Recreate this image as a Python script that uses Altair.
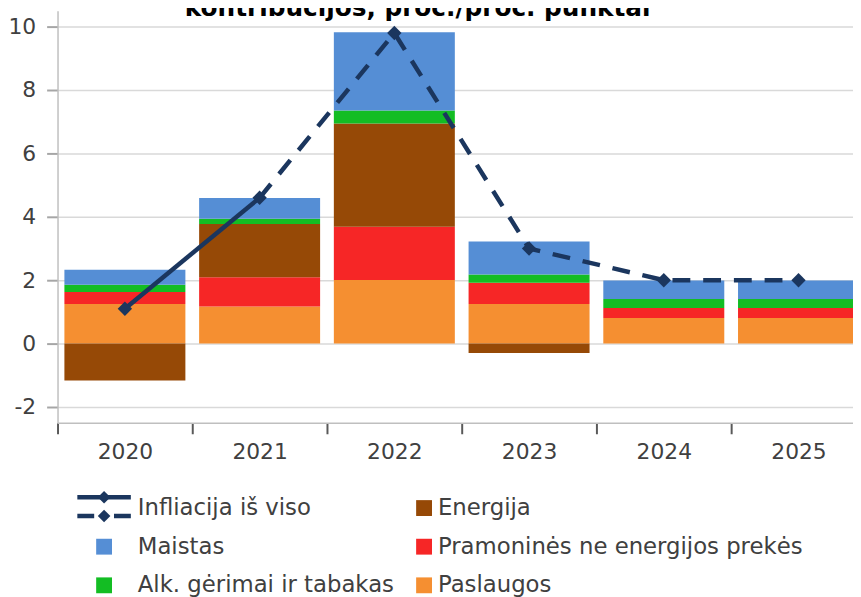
import altair as alt
import pandas as pd

# ---------------- data ----------------
years = [2020, 2021, 2022, 2023, 2024, 2025]
paslaugos = [1.25, 1.17, 2.01, 1.25, 0.81, 0.81]
pramonines = [0.38, 0.92, 1.68, 0.67, 0.31, 0.31]
energija = [-1.16, 1.68, 3.25, -0.30, 0.0, 0.0]
alk_gerimai = [0.23, 0.17, 0.41, 0.26, 0.29, 0.29]
maistas = [0.47, 0.65, 2.47, 1.04, 0.58, 0.58]
infliacija = [1.1, 4.6, 9.8, 3.0, 2.0, 2.0]

line_name = "Infliacija iš viso"
cat_names = ["Paslaugos", "Pramoninės ne energijos prekės", "Energija",
             "Alk. gėrimai ir tabakas", "Maistas"]
cat_series = [paslaugos, pramonines, energija, alk_gerimai, maistas]
legend_order = [line_name, "Maistas", "Alk. gėrimai ir tabakas",
                "Energija", "Pramoninės ne energijos prekės", "Paslaugos"]
title_text = "kontribucijos, proc./proc. punktai"

# ---------------- styles / layout ----------------
cat_colors = ["#F58F31", "#F62626", "#964906", "#13BD23", "#558ED5"]
line_color = "#1B365E"
text_color = "#404040"
FONT = "DejaVu Sans"
W, H = 803, 416
PAD_L, PAD_B = 50, 173
BAND_PX = 136
HALF_BAR = 0.449
x_domain = [2019.5, 2019.5 + W / BAND_PX]
y_domain = [-2.5, 10.5]

# legend placement (pixels relative to plot origin)
ROW0_Y, ROW_STEP = 502, 39
SYM_X = (47, 370)
TXT_X = (81, 384)


def x_dom(p0, p1, length):
    k = p1 - p0
    d0 = -p0 / k
    return [d0, d0 + length / k]


def y_dom(p0, p1, length):
    q0, q1 = length - p0, length - p1
    k = q1 - q0
    d0 = -q0 / k
    return [d0, d0 + length / k]


# ---------------- tables ----------------
rows = []
for ci, (name, series) in enumerate(zip(cat_names, cat_series)):
    for y, v in zip(years, series):
        rows.append({"year": y, "category": name, "value": v, "order": ci})
bars_df = pd.DataFrame(rows)
line_df = pd.DataFrame({"year": years, "infl": infliacija})
leg_df = pd.DataFrame({"label": legend_order,
                       "col": [i // 3 for i in range(len(legend_order))],
                       "row": [i % 3 for i in range(len(legend_order))]})

xs = alt.Scale(domain=x_domain, nice=False, zero=False)
ys = alt.Scale(domain=y_domain, nice=False, zero=False)
color_scale = alt.Scale(domain=cat_names, range=cat_colors)

x_axis = alt.Axis(
    values=[2019.5 + 0.5 * i for i in range(12)],
    labelExpr="datum.value % 1 == 0 ? '' + datum.value : ''",
    tickOpacity={"condition": {"test": "datum.value % 1 != 0", "value": 1}, "value": 0},
    grid=False, domainColor="#bfbfbf", domainWidth=1.5,
    tickColor="#595959", tickWidth=2, tickSize=11,
    labelFont=FONT, labelFontSize=22, labelColor=text_color, labelPadding=8,
    labelOverlap=False, labelFlush=False, title=None)
y_axis = alt.Axis(
    values=list(range(-2, 11)),
    labelExpr="datum.value % 2 == 0 ? '' + datum.value : ''",
    grid=True, gridColor="#d9d9d9", gridWidth=1.5,
    domainColor="#bfbfbf", domainWidth=1.5,
    tickColor="#a6a6a6", tickWidth=2, tickSize=11,
    labelFont=FONT, labelFontSize=22, labelColor=text_color, labelPadding=11,
    labelOverlap=False, title=None)

bars = alt.Chart(bars_df).transform_stack(
    stack="value", groupby=["year"], as_=["y0", "y1"],
    sort=[alt.SortField("order", order="ascending")]
).transform_calculate(
    xa=f"datum.year - {HALF_BAR}", xb=f"datum.year + {HALF_BAR}"
).mark_bar().encode(
    x=alt.X("xa:Q", scale=xs, axis=x_axis),
    x2="xb:Q",
    y=alt.Y("y0:Q", scale=ys, axis=y_axis),
    y2="y1:Q",
    color=alt.Color("category:N", scale=color_scale, legend=None),
)

line_solid = alt.Chart(line_df).transform_filter("datum.year <= 2021").mark_line(
    color=line_color, strokeWidth=4.5).encode(
    x=alt.X("year:Q", scale=xs), y=alt.Y("infl:Q", scale=ys))
line_dash = alt.Chart(line_df).transform_filter("datum.year >= 2021").mark_line(
    color=line_color, strokeWidth=4.5, strokeDash=[18, 13], strokeCap="butt").encode(
    x=alt.X("year:Q", scale=xs), y=alt.Y("infl:Q", scale=ys))
points = alt.Chart(line_df).mark_point(
    shape="diamond", filled=True, size=210, color=line_color, opacity=1).encode(
    x=alt.X("year:Q", scale=xs), y=alt.Y("infl:Q", scale=ys))

main = alt.layer(bars, line_solid, line_dash, points)

# ---------------- legend ----------------
row_scale = alt.Scale(domain=y_dom(ROW0_Y, ROW0_Y + ROW_STEP, H), nice=False, zero=False)
sym_x_scale = alt.Scale(domain=x_dom(SYM_X[0], SYM_X[1], W), nice=False, zero=False)
txt_x_scale = alt.Scale(domain=x_dom(TXT_X[0], TXT_X[1], W), nice=False, zero=False)

leg_text = alt.Chart(leg_df).mark_text(
    align="left", baseline="middle", font=FONT, fontSize=23, color=text_color).encode(
    x=alt.X("col:Q", scale=txt_x_scale, axis=None),
    y=alt.Y("row:Q", scale=row_scale, axis=None),
    text="label:N")

base_leg = alt.Chart(leg_df)
squares = base_leg.transform_filter(f"datum.label != '{line_name}'").mark_square(
    size=256, opacity=1).encode(
    x=alt.X("col:Q", scale=sym_x_scale, axis=None),
    y=alt.Y("row:Q", scale=row_scale, axis=None),
    color=alt.Color("label:N", scale=color_scale, legend=None))
only_line = base_leg.transform_filter(f"datum.label == '{line_name}'")
sym_solid = only_line.mark_rule(
    color=line_color, strokeWidth=4.5, xOffset=-27, x2Offset=27, yOffset=-11).encode(
    x=alt.X("col:Q", scale=sym_x_scale, axis=None), x2="col:Q",
    y=alt.Y("row:Q", scale=row_scale, axis=None))
sym_dash = only_line.mark_rule(
    color=line_color, strokeWidth=4.5, strokeDash=[17, 20], strokeCap="butt",
    xOffset=-27, x2Offset=27, yOffset=8).encode(
    x=alt.X("col:Q", scale=sym_x_scale, axis=None), x2="col:Q",
    y=alt.Y("row:Q", scale=row_scale, axis=None))
dia_solid = only_line.mark_point(
    shape="diamond", filled=True, size=160, color=line_color, opacity=1, yOffset=-11).encode(
    x=alt.X("col:Q", scale=sym_x_scale, axis=None),
    y=alt.Y("row:Q", scale=row_scale, axis=None))
dia_dash = only_line.mark_point(
    shape="diamond", filled=True, size=160, color=line_color, opacity=1, yOffset=8).encode(
    x=alt.X("col:Q", scale=sym_x_scale, axis=None),
    y=alt.Y("row:Q", scale=row_scale, axis=None))
leg_sym = alt.layer(squares, sym_solid, sym_dash, dia_solid, dia_dash)

chart = alt.layer(
    main, leg_text, leg_sym,
    title=alt.TitleParams(title_text, font=FONT, fontSize=25, fontWeight="bold",
                          color="black", anchor="middle", frame="group",
                          offset=-10, dx=-38),
).resolve_scale(x="independent", y="independent").properties(
    width=W, height=H,
    autosize=alt.AutoSizeParams(type="none"),
    padding={"left": PAD_L, "top": 0, "right": 0, "bottom": PAD_B},
).configure_view(stroke="transparent")

chart.save("out.html", embed_options={"renderer": "svg", "actions": False})
